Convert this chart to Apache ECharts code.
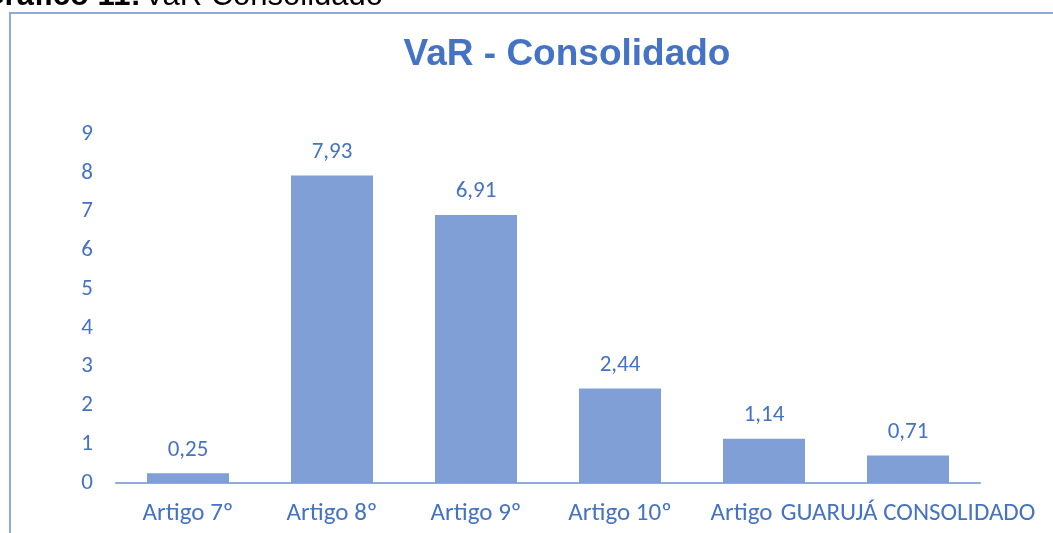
<!DOCTYPE html>
<html>
<head>
<meta charset="utf-8">
<script src="https://cdn.jsdelivr.net/npm/echarts@6/dist/echarts.min.js"></script>
<style>html,body{margin:0;padding:0;background:#fff;}#c{width:1053px;height:533px;}</style>
</head>
<body>
<div id="c"></div>
<script>
const categories = ['Artigo 7º', 'Artigo 8º', 'Artigo 9º', 'Artigo 10º', 'Artigo', 'GUARUJÁ CONSOLIDADO'];
const varValues = [0.25, 7.93, 6.91, 2.44, 1.14, 0.71];
const yTicks = [0, 1, 2, 3, 4, 5, 6, 7, 8, 9];

const blue = '#4472c4';
const font = 'Calibri, Carlito, Lato, sans-serif';
const chart = echarts.init(document.getElementById('c'), null, {renderer: 'canvas'});
chart.setOption({
  animation: false,
  backgroundColor: '#fff',
  graphic: [
    {type: 'rect', shape: {x: 10, y: 13, width: 1100, height: 600},
     style: {fill: 'none', stroke: '#8eaadb', lineWidth: 2}, silent: true},
    {type: 'text', x: 383, y: -4,
     style: {text: '{b|Gráfico 11:} {n|VaR Consolidado}', align: 'right', verticalAlign: 'middle',
       rich: {b: {fontFamily: 'Liberation Sans, Arial', fontWeight: 'bold', fontSize: 31, fill: '#000'},
              n: {fontFamily: 'Liberation Sans, Arial', fontSize: 31, fill: '#000'}}}},
    {type: 'text', x: 567, y: 55,
     style: {text: 'VaR - Consolidado', align: 'center', verticalAlign: 'middle',
       fontFamily: 'Liberation Sans, Arial', fontWeight: 'bold', fontSize: 37, fill: blue}}
  ],
  grid: {left: 116, right: 73, top: 134, bottom: 50, containLabel: false},
  xAxis: {
    type: 'category',
    data: categories,
    axisLine: {lineStyle: {color: '#8faadc', width: 2}},
    axisTick: {show: false},
    axisLabel: {
      interval: 0, hideOverlap: false, color: blue, fontFamily: font, fontSize: 25, margin: 18,
      formatter: (v, i) => i === 4 ? '{s|' + v + '}' : v,
      rich: {s: {color: blue, fontFamily: font, fontSize: 25, padding: [0, 45, 0, 0]}}
    }
  },
  yAxis: {
    type: 'value', min: 0, max: 9, interval: 1,
    splitLine: {show: false}, axisLine: {show: false}, axisTick: {show: false},
    axisLabel: {color: blue, fontFamily: font, fontSize: 23, margin: 23,
      formatter: v => yTicks.includes(v) ? String(v) : ''}
  },
  series: [{
    type: 'bar',
    data: varValues,
    barWidth: 82,
    itemStyle: {color: '#7f9fd6'},
    label: {show: true, position: 'top', distance: 12, color: blue, fontFamily: font, fontSize: 23,
      formatter: p => p.value.toFixed(2).replace('.', ',')}
  }]
});
</script>
</body>
</html>
